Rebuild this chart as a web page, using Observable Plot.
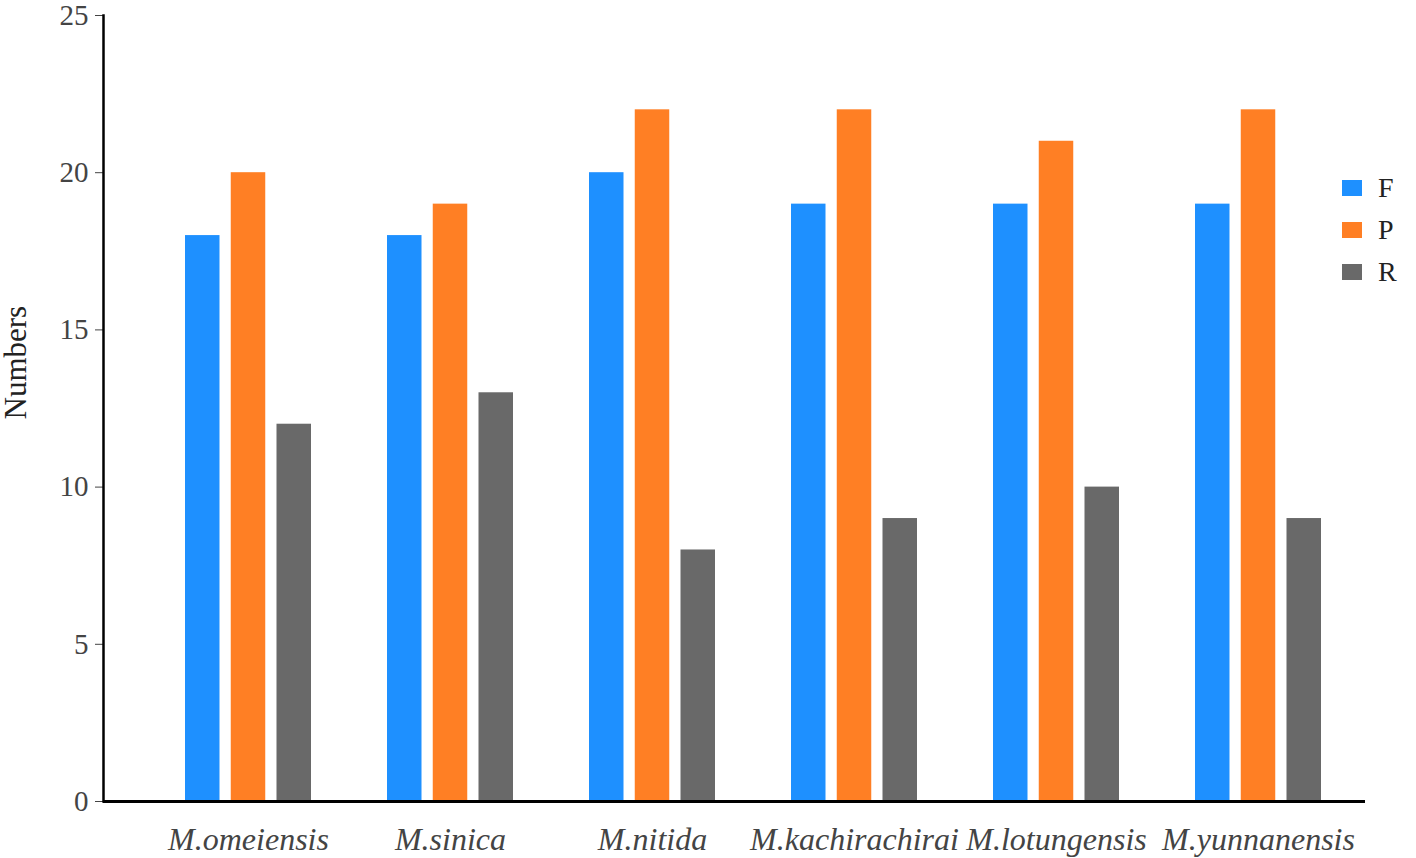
<!DOCTYPE html>
<html><head><meta charset="utf-8">
<script src="https://cdn.jsdelivr.net/npm/d3@7"></script>
<script src="https://cdn.jsdelivr.net/npm/@observablehq/plot@0.6"></script>
<style>
body{margin:0;background:#fff;}
#wrap{position:relative;width:1416px;height:858px;font-family:"Liberation Serif","Times New Roman",serif;}
#wrap svg{position:absolute;left:0;top:0;}
.legend{position:absolute;left:1342px;top:167px;}
.item{display:flex;align-items:center;height:42px;}
.sw{width:20px;height:16px;margin-right:16px;}
.lab{font-size:28px;color:#222;line-height:1;}
</style></head><body><div id="wrap"></div>
<script>
const species = ["M.omeiensis","M.sinica","M.nitida","M.kachirachirai","M.lotungensis","M.yunnanensis"];
const series = ["F","P","R"];
const F = [18,18,20,19,19,19];
const P = [20,19,22,22,21,22];
const R = [12,13,8,9,10,9];
const colors = ["#1E90FF","#FF7F24","#696969"];
const yTicks = [0,5,10,15,20,25];
const yLabel = "Numbers";

const values = [F,P,R];
const data = species.flatMap((s,i)=>series.map((k,j)=>({species:s, series:k, value:values[j][i]})));
const font = '"Liberation Serif","Times New Roman",serif';
const step = 45.75;

const plot = Plot.plot({
  width:1416, height:858,
  marginTop:15, marginBottom:57, marginLeft:103, marginRight:51,
  style:{fontFamily:font, background:"white", overflow:"visible"},
  x:{domain:species, paddingInner:0.374, paddingOuter:0.31, align:0.65, label:null},
  y:{domain:[0,25], label:null},
  color:{domain:series, range:colors},
  marks:[
    ...series.map((k,j)=>Plot.barY(data.filter(d=>d.series===k),{
      x:"species", y:"value", fill:"series",
      insetLeft:j*step, insetRight:(2-j)*step
    })),
    Plot.axisY(yTicks,{tickSize:8, tickPadding:7, fontSize:29, color:"#444", label:null}),
    Plot.axisX({tickSize:0, tickPadding:26, fontSize:32, fontStyle:"italic", color:"#444", label:null}),
    Plot.text([yLabel],{frameAnchor:"left", rotate:-90, dx:-87, dy:11, fontSize:31, fill:"#222"}),
    Plot.frame({anchor:"left", stroke:"black", strokeWidth:2.5}),
    Plot.ruleY([0],{stroke:"black", strokeWidth:3})
  ]
});
const wrap = document.getElementById("wrap");
wrap.appendChild(plot);
const leg = document.createElement("div");
leg.className = "legend";
series.forEach((k,j)=>{
  const it = document.createElement("div"); it.className="item";
  const sw = document.createElement("div"); sw.className="sw"; sw.style.background = colors[j];
  const lb = document.createElement("span"); lb.className="lab"; lb.textContent = k;
  it.appendChild(sw); it.appendChild(lb); leg.appendChild(it);
});
wrap.appendChild(leg);
</script></body></html>
